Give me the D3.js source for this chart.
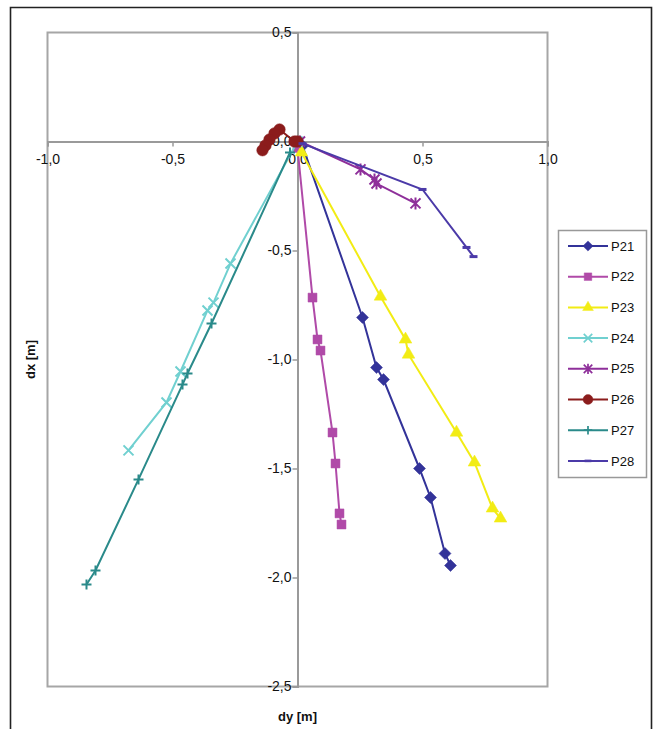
<!DOCTYPE html>
<html>
<head>
<meta charset="utf-8">
<script src="https://cdn.jsdelivr.net/npm/d3@7"></script>
<style>
  html, body { margin: 0; padding: 0; background: #fff; }
  svg { display: block; }
  text { font-family: "Liberation Sans", Arial, sans-serif; fill: #111; }
</style>
</head>
<body>
<svg id="chart" width="656" height="729"></svg>
<script>
// Displacement paths of survey points: dy (horizontal) vs dx (vertical), metres
const seriesNames = ["P21", "P22", "P23", "P24", "P25", "P26", "P27", "P28"];
const seriesColors = ["#333399", "#b04aa8", "#f2ec14", "#70d0d0", "#8e2f9a", "#8b1c1c", "#2a8a8a", "#4b3aa8"];
const seriesMarkers = ["diamond", "square", "triangle", "x", "asterisk", "circle", "plus", "dash"];

const p21 = [[0.02, -0.02], [0.26, -0.807], [0.316, -1.037], [0.344, -1.092], [0.488, -1.5], [0.532, -1.633], [0.59, -1.89], [0.612, -1.945]];
const p22 = [[0.0, -0.03], [0.06, -0.716], [0.08, -0.908], [0.092, -0.959], [0.14, -1.335], [0.152, -1.477], [0.168, -1.706], [0.176, -1.757]];
const p23 = [[0.016, -0.05], [0.332, -0.711], [0.432, -0.908], [0.444, -0.977], [0.636, -1.335], [0.708, -1.472], [0.78, -1.683], [0.812, -1.729]];
const p24 = [[0.0, 0.0], [-0.268, -0.56], [-0.336, -0.739], [-0.36, -0.775], [-0.468, -1.055], [-0.524, -1.197], [-0.676, -1.417]];
const p25 = [[0.01, 0.0], [0.252, -0.128], [0.308, -0.174], [0.316, -0.193], [0.472, -0.284]];
const p26 = [[0.0, 0.0], [-0.012, 0.0], [-0.072, 0.055], [-0.092, 0.037], [-0.112, 0.009], [-0.128, -0.018], [-0.14, -0.04]];
const p27 = [[-0.03, -0.05], [-0.344, -0.835], [-0.44, -1.064], [-0.46, -1.115], [-0.636, -1.55], [-0.808, -1.968], [-0.844, -2.032]];
const p28 = [[0.02, -0.01], [0.5, -0.22], [0.676, -0.486], [0.704, -0.528]];
const seriesValues = [p21, p22, p23, p24, p25, p26, p27, p28];

const xTicks = [-1.0, -0.5, 0.0, 0.5, 1.0];
const yTicks = [0.5, 0.0, -0.5, -1.0, -1.5, -2.0, -2.5];
const xTitle = "dy [m]";
const yTitle = "dx [m]";

const svg = d3.select("#chart");
const x = d3.scaleLinear().domain([-1, 1]).range([47.5, 547.5]);
const y = d3.scaleLinear().domain([0.5, -2.5]).range([32.5, 686.5]);
const fmt = v => d3.format(".1f")(v).replace(".", ",").replace("−", "-");

// outer chart frame
svg.append("path")
  .attr("d", "M10.5,729 V7.5 H651.5 V729")
  .attr("fill", "none").attr("stroke", "#222").attr("stroke-width", 1.6);

// plot area border
svg.append("rect")
  .attr("x", x(-1)).attr("y", y(0.5))
  .attr("width", x(1) - x(-1)).attr("height", y(-2.5) - y(0.5))
  .attr("fill", "none").attr("stroke", "#a6a6a6").attr("stroke-width", 2);

// axes crossing at the origin
const xAxis = d3.axisBottom(x).tickValues(xTicks).tickSize(5).tickFormat(fmt);
const yAxis = d3.axisLeft(y).tickValues(yTicks).tickSize(5).tickFormat(fmt);

const gx = svg.append("g").attr("transform", `translate(0,${y(0)})`).call(xAxis);
const gy = svg.append("g").attr("transform", `translate(${x(0)},0)`).call(yAxis);
[gx, gy].forEach(g => {
  g.select(".domain").attr("stroke", "#9a9a9a").attr("stroke-width", 2);
  g.selectAll(".tick line").attr("stroke", "#9a9a9a").attr("stroke-width", 1.5);
  g.selectAll(".tick text")
    .attr("font-family", "Liberation Sans, Arial, sans-serif")
    .attr("font-size", 14).attr("fill", "#111");
});
gx.selectAll(".tick text").attr("dy", "1.1em").attr("y", 7);
gy.selectAll(".tick text").attr("x", -6);

// marker shapes
function markerPath(type) {
  switch (type) {
    case "diamond": return "M0,-6L6,0L0,6L-6,0Z";
    case "square": return d3.symbol(d3.symbolSquare, 80)();
    case "triangle": return d3.symbol(d3.symbolTriangle, 70)();
    case "circle": return d3.symbol(d3.symbolCircle, 105)();
    case "x": return "M-5,-5L5,5M-5,5L5,-5";
    case "plus": return "M-5,0H5M0,-5V5";
    case "asterisk": return "M-5,-5L5,5M-5,5L5,-5M0,-6V6";
    case "dash": return "M-4,0H4";
  }
}
const filled = t => ["diamond", "square", "triangle", "circle"].includes(t);

const line = d3.line().x(d => x(d[0])).y(d => y(d[1]));

seriesValues.forEach((vals, i) => {
  const col = seriesColors[i];
  const mk = seriesMarkers[i];
  const g = svg.append("g");
  g.append("path").datum(vals).attr("d", line)
    .attr("fill", "none").attr("stroke", col).attr("stroke-width", 2);
  g.selectAll("path.m").data(vals).join("path").attr("class", "m")
    .attr("transform", d => `translate(${x(d[0])},${y(d[1])})`)
    .attr("d", markerPath(mk))
    .attr("fill", filled(mk) ? col : "none")
    .attr("stroke", col)
    .attr("stroke-width", filled(mk) ? 0.5 : (mk === "dash" ? 3 : 2));
});

// axis titles
svg.append("text").attr("x", x(0)).attr("y", 721)
  .attr("text-anchor", "middle").attr("font-size", 13).attr("font-weight", "bold")
  .text(xTitle);
svg.append("text")
  .attr("transform", `translate(35,${y(-1.0)}) rotate(-90)`)
  .attr("text-anchor", "middle").attr("font-size", 13).attr("font-weight", "bold")
  .text(yTitle);

// legend
const lg = svg.append("g");
lg.append("rect").attr("x", 558.5).attr("y", 230.5).attr("width", 88).attr("height", 247)
  .attr("fill", "#fff").attr("stroke", "#999").attr("stroke-width", 1.5);
seriesNames.forEach((name, i) => {
  const cy = 246 + i * 30.7;
  const col = seriesColors[i];
  const mk = seriesMarkers[i];
  lg.append("line").attr("x1", 568).attr("x2", 608).attr("y1", cy).attr("y2", cy)
    .attr("stroke", col).attr("stroke-width", 2);
  lg.append("path").attr("transform", `translate(588,${cy}) scale(0.85)`).attr("d", markerPath(mk))
    .attr("fill", filled(mk) ? col : "none").attr("stroke", col)
    .attr("stroke-width", filled(mk) ? 0.5 : (mk === "dash" ? 3 : 2));
  lg.append("text").attr("x", 611).attr("y", cy).attr("dy", "0.36em")
    .attr("font-size", 13).text(name);
});
</script>
</body>
</html>
